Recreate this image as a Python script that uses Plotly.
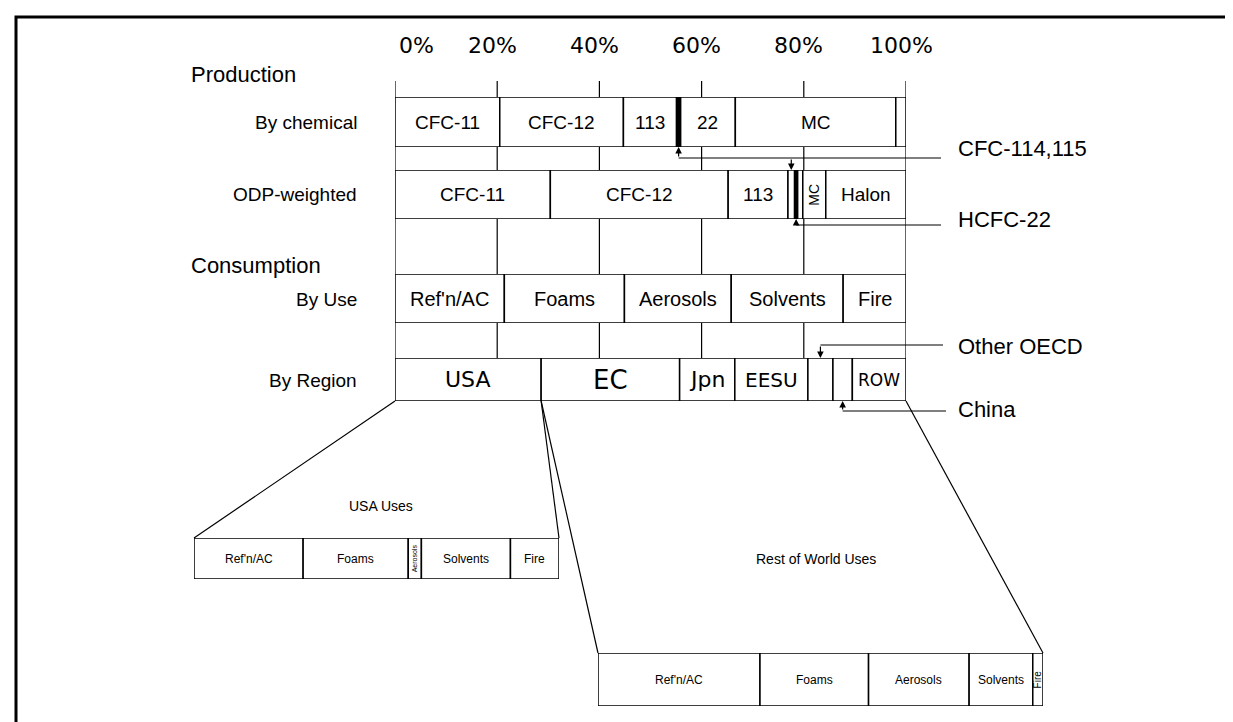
import numpy as np
import plotly.graph_objects as go

W, H = 1233, 722

# ---------------- data ----------------
tick_vals = [0, 20, 40, 60, 80, 100]
tick_text = ["0%", "20%", "40%", "60%", "80%", "100%"]

chem_names = ["CFC-11", "CFC-12", "113", "CFC-114,115", "22", "MC", "Halons"]
chem_values = [20.5, 24.2, 10.4, 0.8, 10.7, 31.4, 2.0]
chem_text = ["CFC-11", "CFC-12", "113", "", "22", "MC", ""]

odp_names = ["CFC-11", "CFC-12", "113", "CFC-114,115", "HCFC-22", "(unlabelled)", "MC", "Halon"]
odp_values = [30.4, 34.8, 11.7, 1.3, 0.6, 1.0, 4.5, 15.7]
odp_text = ["CFC-11", "CFC-12", "113", "", "", "", "MC", "Halon"]

use_names = ["Ref'n/AC", "Foams", "Aerosols", "Solvents", "Fire"]
use_values = [21.4, 23.5, 20.9, 21.9, 12.3]

region_names = ["USA", "EC", "Jpn", "EESU", "Other OECD", "China", "ROW"]
region_values = [28.6, 27.1, 10.8, 14.3, 4.9, 3.8, 10.5]
region_text = ["USA", "EC", "Jpn", "EESU", "", "", "ROW"]

usa_use_names = ["Ref'n/AC", "Foams", "Aerosols", "Solvents", "Fire"]
usa_use_values = [29.9, 28.8, 3.6, 24.4, 13.3]

row_use_names = ["Ref'n/AC", "Foams", "Aerosols", "Solvents", "Fire"]
row_use_values = [36.4, 24.4, 22.6, 14.3, 2.3]

# ---------------- layout constants (pixels) ----------------
MAIN_X = (387, 898)
ROWS = {  # y-axis name: (top px, bottom px)
    "y": (89, 139),
    "y2": (162, 211),
    "y3": (266, 315),
    "y4": (350, 393),
}
TICK_TOP = 73
USA_BOX = ((186, 551), (530, 571))
ROW_BOX = ((590, 1035), (645, 698))
RIGHT_X = 948

SANS = "Liberation Sans, Arial, Helvetica"
GEO = "DejaVu Sans, Verdana"


def px(x):
    return x / W


def py(y):
    return 1 - y / H


def xp(pct):
    return px(MAIN_X[0]) + pct / 100 * (MAIN_X[1] - MAIN_X[0]) / W


def starts_of(values):
    return np.concatenate([[0.0], np.cumsum(values)[:-1]])


def centers_of(values):
    return starts_of(values) + np.array(values) / 2


fig = go.Figure()
annotations = []
shapes = []


def note(**kw):
    kw.setdefault("showarrow", False)
    kw.setdefault("xanchor", "center")
    kw.setdefault("yanchor", "middle")
    annotations.append(kw)


def add_bar(names, values, xa, ya, dark=()):
    colors = ["black" if n in dark else "white" for n in names]
    fig.add_trace(go.Bar(
        orientation="h", y=[0] * len(values), x=values, base=starts_of(values),
        width=1, marker=dict(color=colors, line=dict(color="black", width=1.5)),
        xaxis=xa, yaxis=ya, hovertext=names, hoverinfo="text", showlegend=False))


def add_labels(texts, values, xa, ya, font, size, rotated=(), rot_size=None, sizes=None):
    for t, c in zip(texts, centers_of(values)):
        if not t:
            continue
        rot = t in rotated
        s = rot_size if rot else (sizes.get(t, size) if sizes else size)
        note(x=c, y=0, xref=xa, yref=ya, text=t, textangle=-90 if rot else 0,
             font=dict(family=font, size=s, color="black"))


# main rows
add_bar(chem_names, chem_values, "x", "y", dark=("CFC-114,115",))
add_labels(chem_text, chem_values, "x", "y", SANS, 19)
add_bar(odp_names, odp_values, "x", "y2", dark=("HCFC-22",))
add_labels(odp_text, odp_values, "x", "y2", SANS, 19, rotated=("MC",), rot_size=14)
add_bar(use_names, use_values, "x", "y3")
add_labels(use_names, use_values, "x", "y3", SANS, 20)
add_bar(region_names, region_values, "x", "y4")
add_labels(region_text, region_values, "x", "y4", GEO, 20,
           sizes={"USA": 22, "EC": 26, "Jpn": 22, "EESU": 20, "ROW": 17})

# breakdown boxes
add_bar(usa_use_names, usa_use_values, "x2", "y5")
add_labels(usa_use_names, usa_use_values, "x2", "y5", SANS, 12, rotated=("Aerosols",), rot_size=7)
add_bar(row_use_names, row_use_values, "x3", "y6")
add_labels(row_use_names, row_use_values, "x3", "y6", SANS, 12, rotated=("Fire",), rot_size=10)

# axes
layout_axes = {}
layout_axes["xaxis"] = dict(domain=[px(MAIN_X[0]), px(MAIN_X[1])], range=[0, 100],
                            visible=False, anchor="y", fixedrange=True)
for ya, (top, bot) in ROWS.items():
    key = "yaxis" if ya == "y" else "yaxis" + ya[1:]
    layout_axes[key] = dict(domain=[py(bot), py(top)], range=[-0.5, 0.5], visible=False,
                            anchor="x", fixedrange=True)
layout_axes["xaxis2"] = dict(domain=[px(USA_BOX[0][0]), px(USA_BOX[0][1])], range=[0, 100],
                             visible=False, anchor="y5")
layout_axes["yaxis5"] = dict(domain=[py(USA_BOX[1][1]), py(USA_BOX[1][0])], range=[-0.5, 0.5],
                             visible=False, anchor="x2")
layout_axes["xaxis3"] = dict(domain=[px(ROW_BOX[0][0]), px(ROW_BOX[0][1])], range=[0, 100],
                             visible=False, anchor="y6")
layout_axes["yaxis6"] = dict(domain=[py(ROW_BOX[1][1]), py(ROW_BOX[1][0])], range=[-0.5, 0.5],
                             visible=False, anchor="x3")

# percentage scale: tick labels and grid lines
for v, t in zip(tick_vals, tick_text):
    note(x=v, xref="x", y=py(38), yref="paper", text=t,
         xanchor="left" if v == 0 else "center", xshift=2 if v == 0 else -5,
         font=dict(family=GEO, size=22, color="black"))
    shapes.append(dict(type="line", xref="x", yref="paper", x0=v, x1=v,
                       y0=py(ROWS["y4"][1]), y1=py(TICK_TOP), layer="below",
                       line=dict(color="black", width=1.2)))

# left labels
for text, y, size, anchor, x in [
    ("Production", 66, 22, "left", 181),
    ("By chemical", 114, 19, "right", 351),
    ("ODP-weighted", 186, 19, "right", 351),
    ("Consumption", 258, 22, "left", 181),
    ("By Use", 291, 19, "right", 351),
    ("By Region", 373, 19, "right", 351),
]:
    note(x=px(x), y=py(y), xref="paper", yref="paper", text=text, xanchor=anchor,
         font=dict(family=SANS, size=size, color="black"))


def arrow(xpct, head_y, tail_dy):
    annotations.append(dict(x=xpct, xref="x", y=py(head_y), yref="paper", text="",
                            showarrow=True, ax=0, ay=tail_dy, arrowhead=2, arrowsize=1.1,
                            arrowwidth=1.2, arrowcolor="black", standoff=0))


def hline(x0_paper, x1_px, y_px):
    shapes.append(dict(type="line", xref="paper", yref="paper", x0=x0_paper, x1=px(x1_px),
                       y0=py(y_px), y1=py(y_px), line=dict(color="black", width=1.2)))


def right_label(text, y_px):
    note(x=px(RIGHT_X), y=py(y_px), xref="paper", yref="paper", text=text, xanchor="left",
         font=dict(family=SANS, size=22, color="black"))


# CFC-114,115 leader (both production rows)
c_chem = centers_of(chem_values)[chem_names.index("CFC-114,115")]
c_odp114 = centers_of(odp_values)[odp_names.index("CFC-114,115")]
hline(xp(c_chem), 933, 150)
arrow(c_chem, ROWS["y"][1], 11)
arrow(c_odp114, ROWS["y2"][0], -12)
right_label("CFC-114,115", 140)

# HCFC-22 leader
c_h22 = centers_of(odp_values)[odp_names.index("HCFC-22")]
hline(xp(c_h22), 933, 217)
arrow(c_h22, ROWS["y2"][1], 6)
right_label("HCFC-22", 211)

# Other OECD / China leaders
c_oecd = centers_of(region_values)[region_names.index("Other OECD")]
c_china = centers_of(region_values)[region_names.index("China")]
hline(xp(c_oecd), 935, 337)
arrow(c_oecd, ROWS["y4"][0], -13)
right_label("Other OECD", 338)
hline(xp(c_china), 938, 403)
arrow(c_china, ROWS["y4"][1], 10)
right_label("China", 401)

# expansion lines from region bar to the breakdown boxes
usa_end = region_values[0]
bar_bot = py(ROWS["y4"][1])
for xa, xb, yb in [
    (xp(0), px(USA_BOX[0][0]), py(USA_BOX[1][0])),
    (xp(usa_end), px(USA_BOX[0][1]), py(USA_BOX[1][0])),
    (xp(usa_end), px(ROW_BOX[0][0]), py(ROW_BOX[1][0])),
    (xp(100), px(ROW_BOX[0][1]), py(ROW_BOX[1][0])),
]:
    shapes.append(dict(type="line", xref="paper", yref="paper", x0=xa, y0=bar_bot,
                       x1=xb, y1=yb, line=dict(color="black", width=1.2)))

# box titles
note(x=px(373), y=py(498), xref="paper", yref="paper", text="USA Uses",
     font=dict(family=SANS, size=14, color="black"))
note(x=px(808), y=py(551), xref="paper", yref="paper", text="Rest of World Uses",
     font=dict(family=SANS, size=14, color="black"))

# outer frame
shapes.append(dict(type="rect", xref="paper", yref="paper", x0=px(8), x1=1.1,
                   y0=py(9), y1=-0.1, line=dict(color="black", width=3)))

fig.update_layout(
    width=W, height=H, autosize=False,
    margin=dict(l=0, r=0, t=0, b=0),
    paper_bgcolor="white", plot_bgcolor="white",
    barmode="overlay", showlegend=False,
    annotations=annotations, shapes=shapes,
    **layout_axes,
)

fig.write_html("out.html")
